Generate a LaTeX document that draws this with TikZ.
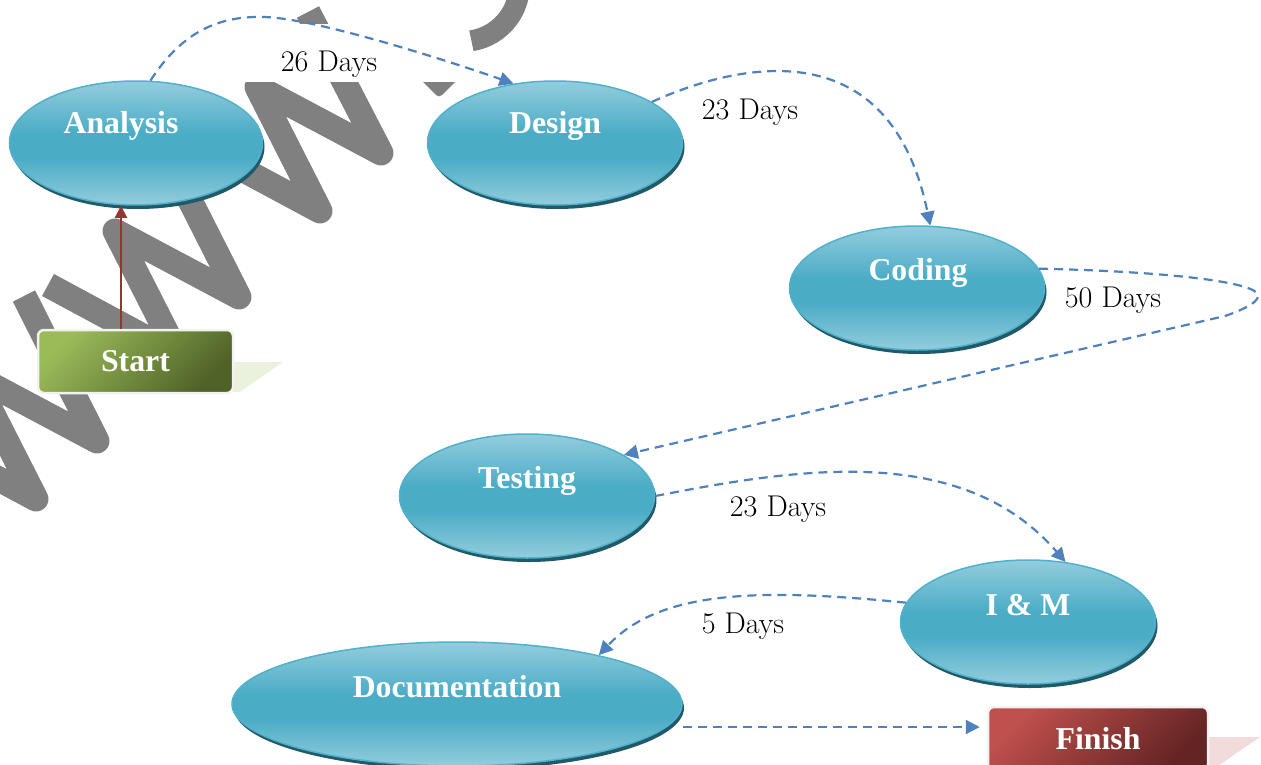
\documentclass[tikz,border=0pt]{standalone}
\usepackage{fontspec}
\newfontfamily\labelfont{Liberation Serif}
\usetikzlibrary{arrows.meta,shadows,shapes.geometric}
\definecolor{tealL}{HTML}{93CDDD}
\definecolor{tealM}{HTML}{4BACC6}
\definecolor{tealB}{HTML}{4FB1CB}
\definecolor{tealD}{HTML}{215968}
\definecolor{flowblue}{HTML}{4F81BD}
\definecolor{redline}{HTML}{943634}
\definecolor{startL}{HTML}{9BBB59}
\definecolor{startD}{HTML}{4F6228}
\definecolor{finL}{HTML}{C0504D}
\definecolor{finD}{HTML}{632423}
\definecolor{startSh}{HTML}{EAF1DD}
\definecolor{finSh}{HTML}{F2DCDB}
\definecolor{boxrim}{HTML}{F2F2F2}
\definecolor{wmgray}{HTML}{808080}
\pgfdeclareverticalshading{ellsh}{100bp}{color(0bp)=(tealL); color(25bp)=(tealL); color(44bp)=(tealM); color(54bp)=(tealM); color(75bp)=(tealL); color(100bp)=(tealL)}
\begin{document}
\begin{tikzpicture}[x=1pt,y=1pt,
  wm/.style={draw=wmgray, line width=25pt, line join=round, line cap=butt},
  phase/.style={ellipse, minimum height=124pt, inner sep=0pt, draw=tealB, line width=1.5pt,
    shading=ellsh, drop shadow={shadow xshift=2pt, shadow yshift=-4pt, opacity=1, fill=tealD}},
  phasetext/.style={text=white, font=\labelfont\fontsize{31.8}{34}\selectfont\bfseries, anchor=base, inner sep=0pt},
  days/.style={text=black, font=\fontsize{30}{33}\selectfont, anchor=base, inner sep=0pt},
  gate/.style={rectangle, rounded corners=6pt, minimum width=195pt, minimum height=63pt,
    draw=boxrim, line width=2.5pt, text=white, font=\labelfont\fontsize{31.8}{34}\selectfont\bfseries},
  flow/.style={draw=flowblue, line width=2.2pt, dash pattern=on 9pt off 6pt,
    -{Triangle[length=14pt,width=14pt]}},
  redarrow/.style={draw=redline, line width=2pt, -{Triangle[length=12pt,width=12pt]}}
]
\useasboundingbox (0,0) rectangle (1261,-765);
\clip (0,0) rectangle (1261,-765);
% watermark
\draw[wm] (197,-145) -- (320,-211) -- (257,-87) -- (381,-153) -- (308,-12);
\draw[wm] (48,-285) -- (178,-355) -- (115,-231) -- (239,-297) -- (168,-157);
\draw[wm] (-87,-433) -- (36,-499) -- (-27,-375) -- (97,-441) -- (24,-296);
\fill[wmgray, rounded corners=4pt] (439,-58) -- (459,-78) -- (439,-98) -- (419,-78) -- cycle;
\draw[wm, line width=21pt] (471.4,-40.8) arc[start angle=-81, end angle=40, radius=57];
\fill[white] (230,-24) rectangle (460,-82);
% box shadows
\fill[startSh] (233,-362) -- (283,-362) -- (240,-392) -- (233,-392) -- cycle;
\fill[finSh] (1208,-737) -- (1260,-737) -- (1218,-766) -- (1208,-766) -- cycle;
% phases
\node[phase, minimum width=253pt] (ana) at (136,-143) {};
\node[phase, minimum width=255pt] (des) at (555,-143) {};
\node[phase, minimum width=255pt] (cod) at (917,-288) {};
\node[phase, minimum width=255pt] (tst) at (527,-496) {};
\node[phase, minimum width=255pt] (im) at (1028,-622) {};
\node[phase, minimum width=450pt] (doc) at (457,-704) {};
\node[phasetext] (anaT) at (121,-134) {Analysis};
\node[phasetext] (desT) at (555,-134) {Design};
\node[phasetext] (codT) at (918,-280) {Coding};
\node[phasetext] (tstT) at (527,-488) {Testing};
\node[phasetext] (imT) at (1028,-615) {I \& M};
\node[phasetext] (docT) at (457,-697) {Documentation};
% start / finish
\node[gate, top color=startL, bottom color=startD, shading angle=45] (sta) at (135.5,-361.5) {Start};
\node[gate, minimum width=220pt, top color=finL, bottom color=finD, shading angle=45] (fin) at (1098,-738.5) {Finish};
% connectors
\draw[redarrow] (sta.north -| anaT.center) -- (ana.south -| anaT.center);
\draw[flow] (ana.77) .. controls (180,-35) and (215,-16) .. (262,-17) .. controls (310,-17) and (440,-58) .. (des.125);
\draw[flow] (des.23) .. controls (740,-62) and (890,-30) .. (cod.78);
\draw[flow] (cod.9) .. controls (1150,-271) and (1245,-280) .. (1257,-293) .. controls (1262,-300) and (1248,-308) .. (1225,-316) -- (tst.23);
\draw[flow] (tst.east) .. controls (790,-470) and (960,-440) .. (im.58);
\draw[flow] (im.171) .. controls (760,-588) and (660,-590) .. (doc.19);
\coordinate (d6) at ([yshift=-23pt]doc.east);
\draw[flow, shorten >=7pt] (d6) -- (d6 -| fin.west);
% labels
\node[days] (l1) at (329,-72) {26 Days};
\node[days] (l2) at (750,-120) {23 Days};
\node[days] (l3) at (1113,-307) {50 Days};
\node[days] (l4) at (778,-516) {23 Days};
\node[days] (l5) at (743,-633) {5 Days};
\end{tikzpicture}
\end{document}
